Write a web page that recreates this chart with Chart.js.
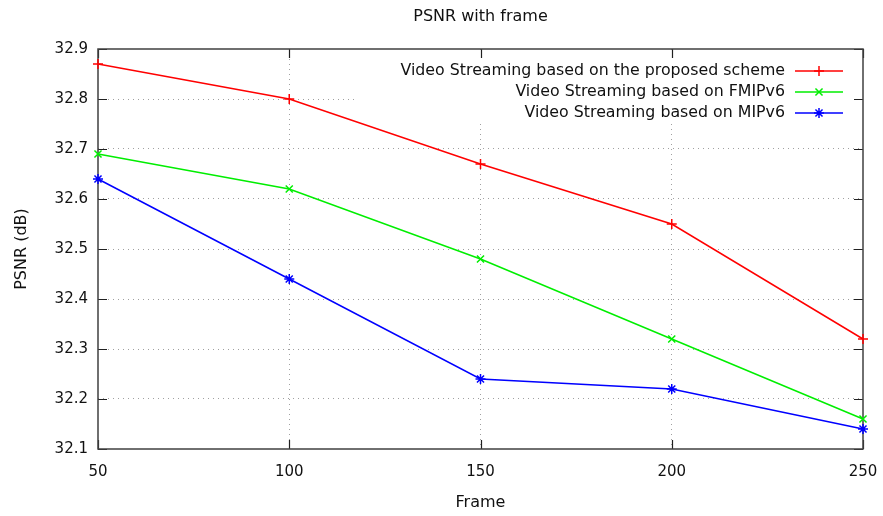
<!DOCTYPE html>
<html lang="en">
<head>
<meta charset="utf-8" />
<title>PSNR with frame</title>
<script src="https://cdn.jsdelivr.net/npm/chart.js@4.4"></script>
<style>
  html,body{margin:0;padding:0;background:#fff;}
  #wrap{width:883px;height:516px;position:relative;}
</style>
</head>
<body>
<div id="wrap"><canvas id="c"></canvas></div>
<script>
/***** ---------- Data ---------- *****/
const FRAMES=[50,100,150,200,250];
const PROPOSED=[32.87,32.80,32.67,32.55,32.32];
const FMIPV6  =[32.69,32.62,32.48,32.32,32.16];
const MIPV6   =[32.64,32.44,32.24,32.22,32.14];
const Y_TICKS =[32.1,32.2,32.3,32.4,32.5,32.6,32.7,32.8,32.9];

const SERIES_NAMES=[
  'Video Streaming based on the proposed scheme',
  'Video Streaming based on FMIPv6',
  'Video Streaming based on MIPv6'
];
const COLORS=['#ff0000','#00ee00','#0000ff'];
const MARKERS=['cross','crossRot','star'];

const FONT='"DejaVu Sans", Verdana, sans-serif';
const TXT='#111111';
const AXIS='#404040';

const pts=ys=>FRAMES.map((x,i)=>({x,y:ys[i]}));

/***** ---------- Frame / key plugin (gnuplot look) ---------- *****/
const gnuFrame={
  id:'gnuFrame',
  beforeDatasetsDraw(chart){
    const {ctx,chartArea:a,scales:{x,y}}=chart;
    ctx.save();
    // key area hides the grid behind it
    ctx.fillStyle='#fff';
    ctx.fillRect(356,a.top+1,a.right-356-1,123-a.top);
    // inward ticks on all four sides
    ctx.strokeStyle='#202020';
    ctx.lineWidth=1.2;
    ctx.beginPath();
    Y_TICKS.forEach(v=>{
      const py=Math.round(y.getPixelForValue(v))+.5;
      ctx.moveTo(a.left,py);ctx.lineTo(a.left+9,py);
      ctx.moveTo(a.right,py);ctx.lineTo(a.right-9,py);
    });
    FRAMES.forEach(v=>{
      const px=Math.round(x.getPixelForValue(v))+.5;
      ctx.moveTo(px,a.bottom);ctx.lineTo(px,a.bottom-9);
      ctx.moveTo(px,a.top);ctx.lineTo(px,a.top+9);
    });
    ctx.stroke();
    // border
    ctx.strokeStyle=AXIS;
    ctx.lineWidth=1.5;
    ctx.strokeRect(a.left,a.top,a.right-a.left,a.bottom-a.top);
    ctx.restore();
  },
  afterDatasetsDraw(chart){
    const {ctx,chartArea:a}=chart;
    ctx.save();
    // title, centred over plot area
    ctx.font='16px '+FONT;
    ctx.fillStyle=TXT;
    ctx.textAlign='center';
    ctx.textBaseline='middle';
    ctx.fillText('PSNR with frame',(a.left+a.right)/2,17);
    // key
    const rows=[71,92,113];
    ctx.font='15.8px '+FONT;
    chart.data.datasets.forEach((ds,i)=>{
      const ry=rows[i];
      ctx.textAlign='right';
      ctx.fillStyle=TXT;
      ctx.fillText(ds.label,785,ry);
      ctx.strokeStyle=ds.borderColor;
      ctx.lineWidth=1.5;
      ctx.beginPath();ctx.moveTo(795,ry);ctx.lineTo(843,ry);ctx.stroke();
      Chart.helpers.drawPoint(ctx,{pointStyle:ds.pointStyle,radius:ds.pointRadius,borderWidth:ds.pointBorderWidth,rotation:0},819,ry);
    });
    ctx.restore();
  }
};

/***** ---------- Chart ---------- *****/
const mk=(label,data,i)=>({
  label,data,
  borderColor:COLORS[i],backgroundColor:COLORS[i],
  borderWidth:1.5,
  pointStyle:MARKERS[i],pointRadius:5,pointBorderWidth:1.5,
  pointBorderColor:COLORS[i],
  tension:0,clip:false
});

const gridColor=edge=>c=>edge.includes(c.tick.value)?'rgba(0,0,0,0)':'#a0a0a0';

new Chart(document.getElementById('c'),{
  type:'line',
  data:{datasets:[
    mk(SERIES_NAMES[0],pts(PROPOSED),0),
    mk(SERIES_NAMES[1],pts(FMIPV6),1),
    mk(SERIES_NAMES[2],pts(MIPV6),2)
  ]},
  options:{
    responsive:true,maintainAspectRatio:false,animation:false,
    layout:{padding:{top:49,right:20,left:0,bottom:0}},
    plugins:{legend:{display:false},title:{display:false},tooltip:{enabled:false}},
    scales:{
      x:{
        type:'linear',min:50,max:250,
        afterFit:s=>{s.height=67;s.paddingLeft=0;s.paddingRight=0;},
        afterBuildTicks:s=>{s.ticks=FRAMES.map(v=>({value:v}));},
        ticks:{padding:14,color:TXT,font:{family:FONT,size:15},callback:v=>String(v)},
        grid:{drawTicks:false,color:gridColor([50,250]),lineWidth:1},
        border:{display:false,dash:[1,4]},
        title:{display:true,text:'Frame',color:TXT,font:{family:FONT,size:16},padding:{top:0,bottom:4}}
      },
      y:{
        min:32.1,max:32.9,
        afterFit:s=>{s.width=98;s.paddingTop=0;s.paddingBottom=0;},
        afterBuildTicks:s=>{s.ticks=Y_TICKS.map(v=>({value:v}));},
        ticks:{padding:10,color:TXT,font:{family:FONT,size:15},callback:v=>v.toFixed(1)},
        grid:{drawTicks:false,color:gridColor([32.1,32.9]),lineWidth:1},
        border:{display:false,dash:[1,4]},
        title:{display:true,text:'PSNR (dB)',color:TXT,font:{family:FONT,size:16},padding:{top:12,bottom:0}}
      }
    }
  },
  plugins:[gnuFrame]
});
</script>
</body>
</html>
